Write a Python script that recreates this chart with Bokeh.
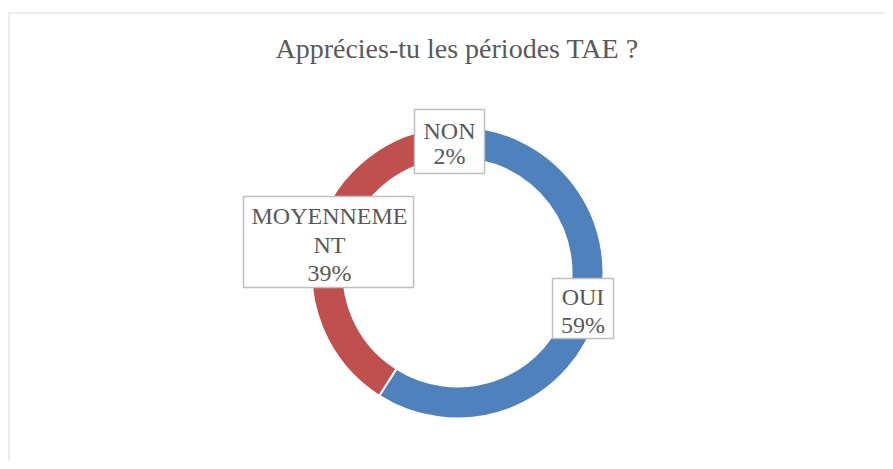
import math
from bokeh.plotting import figure
from bokeh.models import Range1d, ColumnDataSource
from bokeh.core.properties import value
from bokeh.embed import file_html
from bokeh.resources import INLINE

# ---- data ----
categories = ["OUI", "MOYENNEMENT", "NON"]
shares = [59, 39, 2]
colors = ["#4F81BD", "#C0504D", "#9BBB59"]
label_lines = [["OUI", "59%"], ["MOYENNEME", "NT", "39%"], ["NON", "2%"]]
title_text = "Apprécies-tu les périodes TAE ?"

# ---- layout (pixels, y up) ----
W, H = 885, 461
cx, cy = 457, 189
r_out, r_in = 146, 114

# label box positions (left, right, bottom, top) and baselines
box_pos = [(552, 613, 123, 183), (243, 413, 174, 265), (414, 484, 288, 352)]
text_x = [582.5, 329, 449]
baselines = [[164.3, 137], [246, 217, 189], [330.7, 306]]

p = figure(width=W, height=H, output_backend="svg", toolbar_location=None,
           x_range=Range1d(0, W), y_range=Range1d(0, H),
           min_border=0, outline_line_color=None)
p.axis.visible = False
p.grid.visible = False
p.background_fill_color = "white"
p.border_fill_color = "white"

# chart frame (extends beyond window on right/bottom)
p.segment(x0=[8.5, 8.5], y0=[0, H - 12.5], x1=[8.5, W], y1=[H - 12.5, H - 12.5],
          line_color="#D9D9D9", line_width=1)

# donut slices: clockwise from 12 o'clock
total = sum(shares)
starts, ends = [], []
cum = 0.0
for s in shares:
    starts.append(math.pi / 2 - 2 * math.pi * cum / total)
    cum += s
    ends.append(math.pi / 2 - 2 * math.pi * cum / total)

src = ColumnDataSource(dict(x=[cx] * len(shares), y=[cy] * len(shares),
                            start=starts, end=ends, color=colors, cat=categories))
p.annular_wedge(x="x", y="y", inner_radius=r_in, outer_radius=r_out,
                start_angle="start", end_angle="end", direction="clock",
                fill_color="color", line_color="white", line_width=2, source=src)

# label boxes
p.quad(left=[b[0] for b in box_pos], right=[b[1] for b in box_pos],
       bottom=[b[2] for b in box_pos], top=[b[3] for b in box_pos],
       fill_color="white", line_color="#BFBFBF", line_width=1.5)

tx, ty, tt = [], [], []
for i, lines in enumerate(label_lines):
    for line, bl in zip(lines, baselines[i]):
        tx.append(text_x[i]); ty.append(bl); tt.append(line)
p.text(x=tx, y=ty, text=tt, text_font=value("Liberation Serif"),
       text_font_size="24px", text_color="#595959",
       text_align="center", text_baseline="alphabetic")

# title
p.text(x=[456.5], y=[413.4], text=[title_text], text_font=value("Liberation Serif"),
       text_font_size="28px", text_color="#595959",
       text_align="center", text_baseline="alphabetic")

open("out.html", "w").write(file_html(p, INLINE))
